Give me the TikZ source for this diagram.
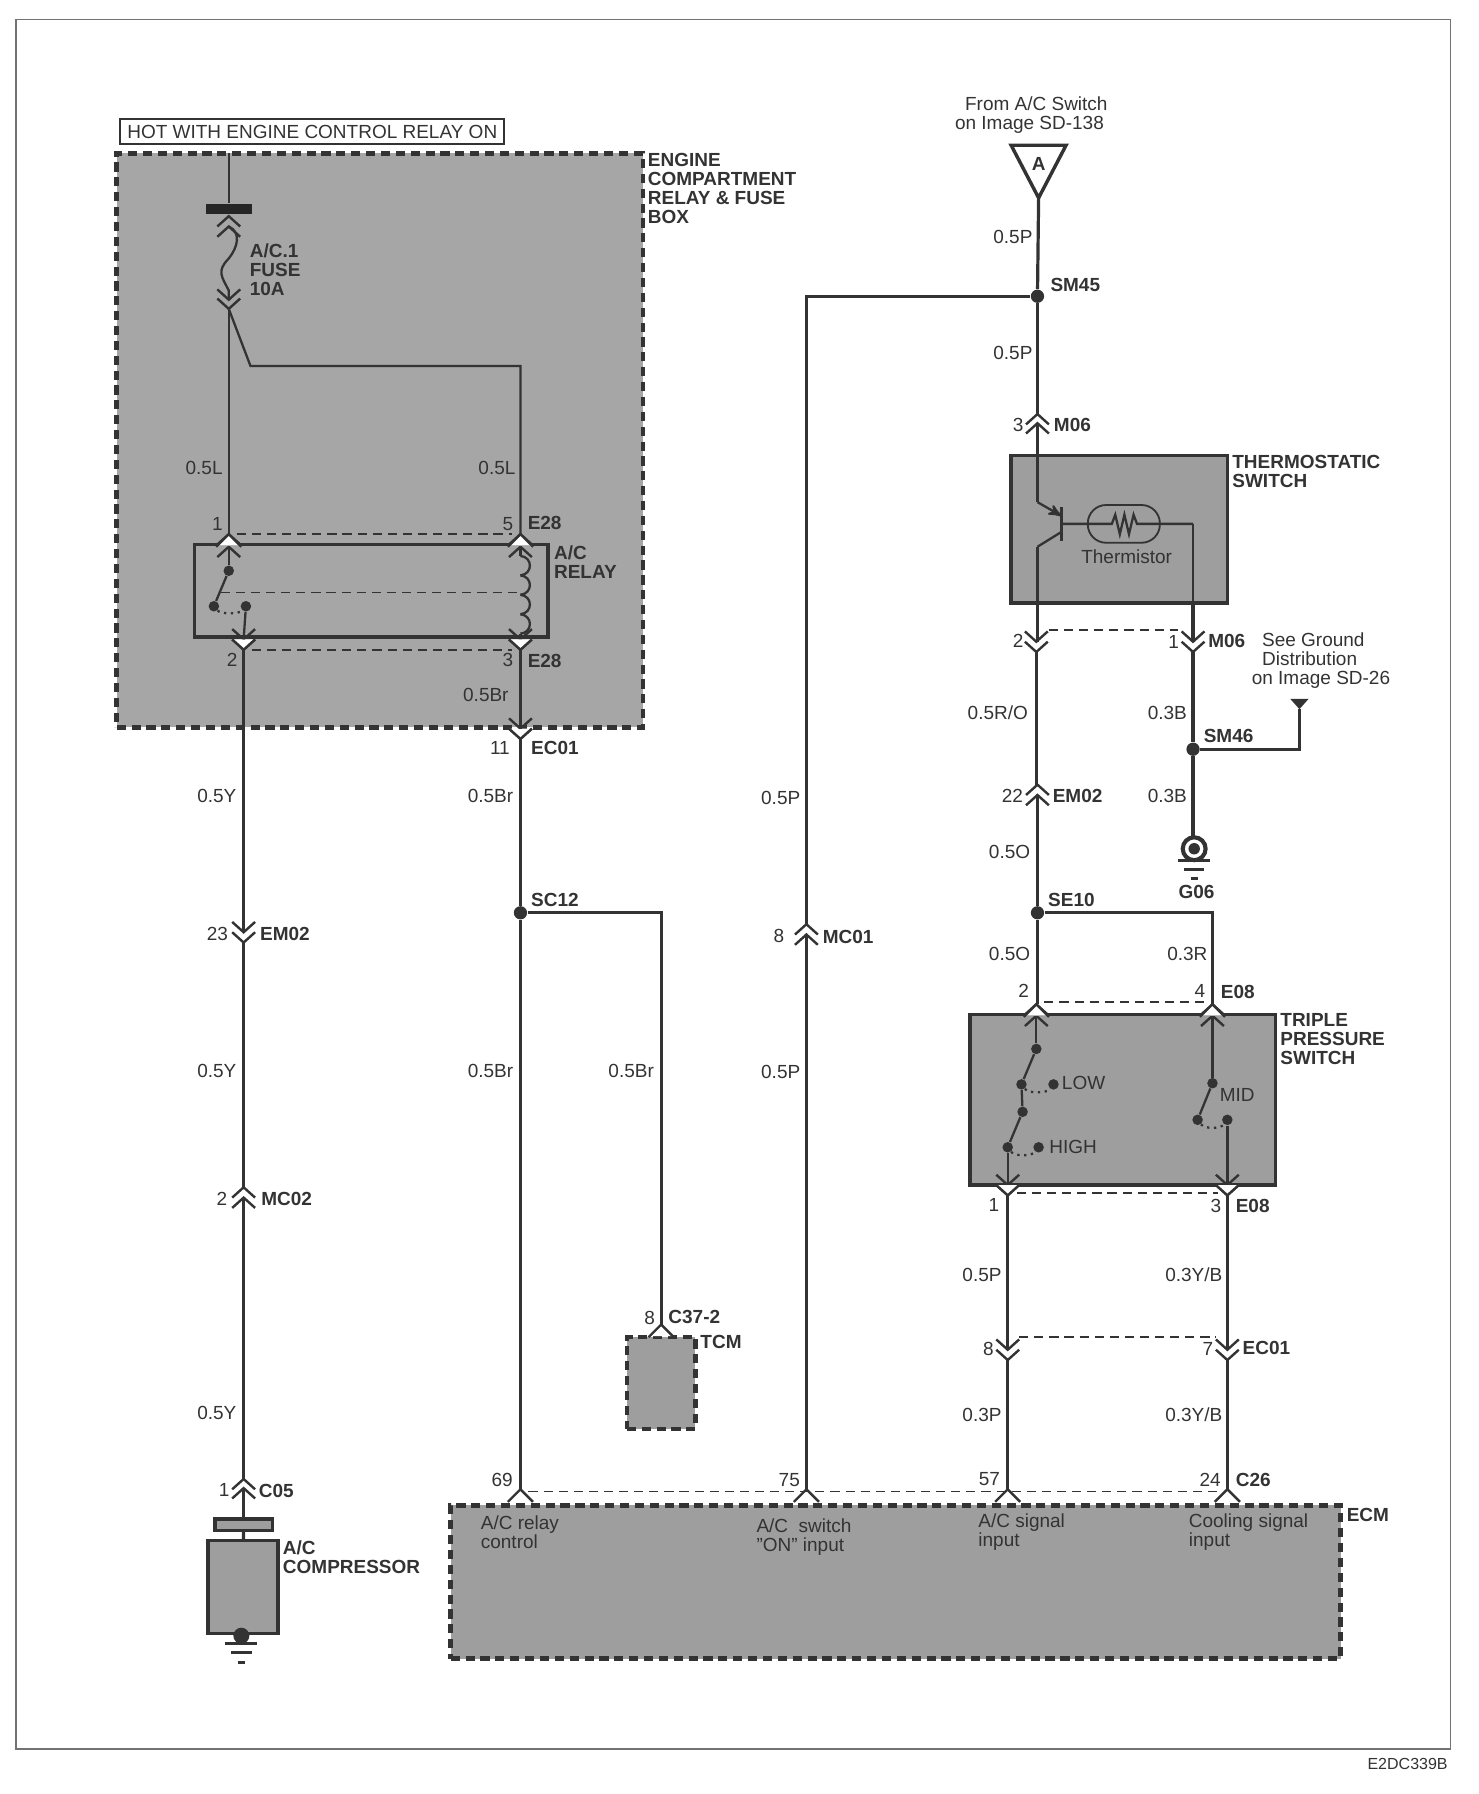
\documentclass[tikz,border=0pt]{standalone}
\usepackage{fontspec}
\setmainfont{Liberation Sans}
\usetikzlibrary{arrows}
\definecolor{ink}{gray}{.2}
\definecolor{boxgray}{gray}{.62}
\tikzset{>=stealth', font=\fontsize{8.3}{8.3}\selectfont, text=ink}
\tikzset{wire/.style={draw=ink, line width=1.4pt},
  thinwire/.style={draw=ink, line width=1pt},
  chev/.style={draw=ink, line width=1.05pt},
  dashlink/.style={draw=ink, line width=.7pt, dash pattern=on 4pt off 2.6pt},
  solidbox/.style={shape=rectangle, draw=ink, fill=boxgray, line width=1.5pt, inner sep=0},
  dashbox/.style={solidbox, line width=2pt, dash pattern=on 4pt off 2.5pt},
  joint/.style={shape=circle, fill=ink, inner sep=0, minimum size=5.8pt},
  contact/.style={shape=circle, fill=ink, inner sep=0, minimum size=4.6pt},
  gauge/.style={anchor=east, inner sep=0, text height=5.9pt, text depth=0pt},
  pinlab/.style={gauge, anchor=center},
  conlab/.style={gauge, anchor=west, font=\fontsize{8.3}{8.3}\selectfont\bfseries},
  boxlab/.style={anchor=north west, inner sep=0, align=left, font=\fontsize{8.3}{8.3}\selectfont\bfseries},
  notelab/.style={anchor=north west, inner sep=0, align=left}}
\tikzset{pics/upconn/.style={code={
      \coordinate (-top) at (0,0); \coordinate (-bot) at (0,#1);
      \draw[chev] (-10,9) -- (0,0) -- (10,9);
      \draw[chev] (-10,9+#1) -- (0,#1) -- (10,9+#1);}},
  pics/downconn/.style={code={
      \coordinate (-top) at (0,0); \coordinate (-bot) at (0,#1);
      \draw[chev] (-10,-9) -- (0,0) -- (10,-9);
      \draw[chev] (-10,-9+#1) -- (0,#1) -- (10,-9+#1);}},
  pics/capup/.style={code={
      \coordinate (-top) at (0,0);
      \fill[white] (-10,10) -- (0,0) -- (10,10) -- cycle;
      \draw[chev] (-11,11) -- (0,0) -- (11,11);}},
  pics/capdown/.style={code={
      \coordinate (-bot) at (0,0);
      \fill[white] (-10,-9) -- (0,0) -- (10,-9) -- cycle;
      \draw[chev] (-10,-9) -- (0,0) -- (10,-9);}},
  pics/earth/.style={code={
      \draw[chev, line width=1.3pt] (-14,0) -- (14,0);
      \draw[chev, line width=1.3pt] (-9,8) -- (9,8);
      \draw[chev, line width=1.3pt] (-3,16) -- (3,16);}}}

\begin{document}
\begin{tikzpicture}[x=.5pt, y=-.5pt]
  \useasboundingbox (0,0) rectangle (1293,1568.4);
  \node[shape=rectangle, draw=black!55, line width=.5pt, minimum width=627pt, minimum height=756pt] (frame) at (641,773) {};
  \node[anchor=east, inner sep=0, font=\fontsize{7}{7}\selectfont] (code) at (1266,1542) {E2DC339B};
  % boxes
  \node[solidbox, fill=white, line width=.9pt, minimum width=168pt, minimum height=11pt] (hot) at (273,115) {HOT WITH ENGINE CONTROL RELAY ON};
  \node[dashbox, fill=boxgray!92, minimum width=230pt, minimum height=251pt] (engine) at (332,385) {};
  \node[solidbox, fill=boxgray!92, minimum width=154.5pt, minimum height=40.5pt] (relay) at (324.5,516.5) {};
  \node[solidbox, minimum width=94.5pt, minimum height=64.5pt] (thermo) at (978.5,462.5) {};
  \node[solidbox, minimum width=133.5pt, minimum height=74.5pt] (triple) at (981.5,961.5) {};
  \node[dashbox, line width=1.8pt, minimum width=30pt, minimum height=40pt] (tcm) at (578,1209) {};
  \node[dashbox, minimum width=389pt, minimum height=67pt] (ecm) at (783,1383) {};
  \node[solidbox, minimum width=25pt, minimum height=5pt] (clutch) at (213,1333) {};
  \node[solidbox, minimum width=30.5pt, minimum height=40.5pt] (comp) at (212.5,1387.5) {};
  % connectors
  \foreach \nm/\x/\y/\g in {fuseup/200/189/9, relay1/200/467/11, relay5/455/467/11, mc02/213/1038/9,
      c05/213/1293/8, mc01/705/808/9, m06in/907/362/8, em02b/907/686/9, tp2/906/878/10, tp4/1060/878/10}
    \pic (\nm) at (\x,\y) {upconn=\g};
  \foreach \nm/\x/\y/\g in {fusedn/200/262/8, relay2/213/559/9, relay3/455/559/9, ec01a/455/637/9, em02a/213/815/9,
      m06l/906/561/9, m06r/1043/561/9, tp1/881/1036/9, tp3/1073/1036/9, ec01l/881/1180/9, ec01r/1073/1180/9}
    \pic (\nm) at (\x,\y) {downconn=\g};
  \foreach \nm/\x/\y in {cr1/200/467, cr5/455/467, cp2/906/878, cp4/1060/878, cap69/455/1302,
      cap75/705/1302, cap57/881/1302, cap24/1073/1302, captcm/578/1158}
    \pic (\nm) at (\x,\y) {capup};
  \foreach \nm/\x/\y in {cr2/213/568, cr3/455/568, cec01/455/646, cp1/881/1045, cp3/1073/1045}
    \pic (\nm) at (\x,\y) {capdown};
  % splices
  \node[joint] (sm45) at (907,259) {};
  \node[joint] (sm46) at (1043,655) {};
  \node[joint] (sc12) at (455,798) {};
  \node[joint] (se10) at (907,798) {};
  \coordinate (atip) at (908,173);
  \coordinate (feed) at (200,134);
  \coordinate (branch) at (200,270);
  \coordinate (gndtip) at (1136,620);
  \coordinate (g06top) at (1043,731);
  \draw[chev, line width=1.5pt] (884,127) -- (932,127) -- (atip) -- cycle;
  \node[inner sep=0, font=\fontsize{8.3}{8.3}\selectfont\bfseries] (swA) at (908,143) {A};
  % fuse
  \node[shape=rectangle, fill=black!85, inner sep=0, minimum width=20pt, minimum height=4.5pt] (bar) at (200,182.5) {};
  \draw[thinwire] (feed) -- (bar);
  \draw[thinwire] (fuseup-bot) .. controls +(11,5) and +(8,-10) .. (200,226)
      .. controls +(-11,11) and +(-6,-12) .. (200,254) -- (fusedn-top);
  \draw[thinwire] (branch) -- (relay1-top);
  \draw[thinwire] (branch) -- (219,320) -- (455,320) -- (relay5-top);
  % relay
  \node[contact] (ra) at (200,499) {};
  \node[contact] (rb) at (187,530) {};
  \node[contact] (rc) at (215,530) {};
  \coordinate (blade) at (193,518);
  \coordinate (coil) at (455,518);
  \draw[thinwire] (relay1-bot) -- (ra);
  \draw[thinwire] (ra) -- (rb);
  \draw[thinwire, dotted] (rb) .. controls +(6,7) and +(-6,7) .. (rc);
  \draw[thinwire] (rc) -- (relay2-top);
  \draw[dashlink] (blade) -- (coil);
  \draw[thinwire] (relay5-bot) -- (455,486);
  \foreach \y in {486,503,520,537}
    \draw[thinwire] (455,\y) .. controls +(11,1) and +(11,-1) .. (455,\y+17);
  \draw[thinwire] (455,554) -- (relay3-top);
  % harness
  \draw[wire] (relay2-bot) -- (em02a-top);
  \draw[wire] (em02a-bot) -- (mc02-top);
  \draw[wire] (mc02-bot) -- (c05-top);
  \draw[wire] (c05-bot) -- (clutch);
  \draw[wire] (clutch) -- (comp);
  \draw[thinwire] (relay3-bot) -- (ec01a-top);
  \draw[wire] (ec01a-bot) -- (sc12);
  \draw[wire] (sc12) -- (cap69-top);
  \draw[wire] (sc12) -- (578,798) -- (captcm-top);
  \draw[wire] (atip) -- (sm45);
  \draw[wire] (sm45) -- (m06in-top);
  \draw[wire] (sm45) -- (705,259) -- (mc01-top);
  \draw[wire] (mc01-bot) -- (cap75-top);
  % thermostatic switch
  \coordinate (qknee) at (907,439);
  \coordinate (qemit) at (928,451);
  \coordinate (qcoll) at (928,465);
  \coordinate (qlow) at (907,478);
  \coordinate (qbase) at (929,458);
  \coordinate (qout) at (1043,458);
  \node[shape=rectangle, draw=ink, line width=.8pt, rounded corners=8pt, inner sep=0, minimum width=31.5pt, minimum height=16.5pt] (capsule) at (982.5,458) {};
  \draw[thinwire] (m06in-bot) -- (qknee);
  \draw[thinwire, ->] (qknee) -- (qemit);
  \draw[thinwire] (928,443) -- (928,473);
  \draw[thinwire] (qcoll) -- (qlow);
  \draw[thinwire] (qbase) -- (972,458) -- (975,450) -- (979,467) -- (983,450) -- (987,467) -- (991,450) -- (994,458) -- (qout);
  \draw[thinwire] (qout) -- (1043,527);
  \draw[thinwire] (qlow) -- (907,527);
  \draw[wire] (907,527) -- (907,561);
  \draw[wire] (1043,527) -- (m06r-top);
  \draw[wire] (m06l-bot) -- (906,686);
  \draw[wire] (em02b-bot) -- (se10);
  \draw[wire] (se10) -- (907,878);
  \draw[thinwire, line width=1.2pt] (se10) -- (1060,798) -- (tp4-top);
  \draw[wire] (m06r-bot) -- (sm46);
  \draw[wire] (sm46) -- (1136,655) -- (gndtip);
  \fill[ink] (1128,611) -- (1144,611) -- (gndtip) -- cycle;
  \draw[wire] (sm46) -- (g06top);
  \draw[chev, line width=1.8pt] (1044,742) circle[radius=10];
  \fill[ink] (1044,742) circle[radius=5];
  \pic (g06) at (1044,752) {earth};
  \fill[ink] (211,1430) circle[radius=7];
  \pic (gcomp) at (211,1437) {earth};
  % pressure switch
  \node[contact] (pa) at (906,917) {};
  \node[contact] (pb) at (893,948) {};
  \node[contact] (pc) at (921,948) {};
  \node[contact] (pd) at (894,972) {};
  \node[contact] (pe) at (881,1003) {};
  \node[contact] (pf) at (908,1003) {};
  \node[contact] (pg) at (1060,947) {};
  \node[contact] (ph) at (1047,979) {};
  \node[contact] (pi) at (1073,979) {};
  \draw[thinwire] (tp2-bot) -- (pa);
  \draw[thinwire] (pa) -- (pb);
  \draw[thinwire, dotted] (pb) .. controls +(6,8) and +(-6,8) .. (pc);
  \draw[thinwire] (pb) -- (pd);
  \draw[thinwire] (pd) -- (pe);
  \draw[thinwire, dotted] (pe) .. controls +(6,8) and +(-6,8) .. (pf);
  \draw[thinwire] (pe) -- (tp1-top);
  \draw[thinwire] (tp4-bot) -- (pg);
  \draw[thinwire] (pg) -- (ph);
  \draw[thinwire, dotted] (ph) .. controls +(6,8) and +(-6,8) .. (pi);
  \draw[thinwire] (pi) -- (tp3-top);
  \draw[wire] (tp1-bot) -- (ec01l-top);
  \draw[wire] (tp3-bot) -- (ec01r-top);
  \draw[wire] (ec01l-bot) -- (cap57-top);
  \draw[wire] (ec01r-bot) -- (cap24-top);
  % dashed ties
  \draw[dashlink] ([shift={(7,0)}]relay1-top) -- ([shift={(-7,0)}]relay5-top);
  \draw[dashlink] ([shift={(7,0)}]relay2-bot) -- ([shift={(-7,0)}]relay3-bot);
  \draw[dashlink] ([shift={(11,-10)}]m06l-top) -- ([shift={(-13,-10)}]m06r-top);
  \draw[dashlink] ([shift={(7,-2)}]tp2-top) -- ([shift={(-7,-2)}]tp4-top);
  \draw[dashlink] ([shift={(8,-2)}]tp1-bot) -- ([shift={(-8,-2)}]tp3-bot);
  \draw[dashlink] ([shift={(10,-11)}]ec01l-top) -- ([shift={(-10,-11)}]ec01r-top);
  \draw[dashlink] ([shift={(7,2)}]cap69-top) -- ([shift={(-7,2)}]cap24-top);
  % labels
  \foreach \x/\y/\t in {195/409/0.5L, 451/409/0.5L, 445/607/0.5Br, 207/696/0.5Y, 449/696/0.5Br,
      207/936/0.5Y, 449/936/0.5Br, 572/936/0.5Br, 207/1235/0.5Y, 700/697/0.5P, 700/937/0.5P,
      903/207/0.5P, 903/308/0.5P, 899/623/{0.5R/O}, 1038/623/0.3B, 1038/696/0.3B, 901/745/0.5O,
      901/834/0.5O, 1056/834/0.3R, 876/1114/0.5P, 1069/1114/{0.3Y/B}, 876/1237/0.3P, 1069/1237/{0.3Y/B}}
    \node[gauge] (g\x-\y) at (\x,\y) {\t};
  \foreach \x/\y/\t in {190/458/1, 444/458/5, 203/577/2, 444/577/3, 437/654/11, 190/816/23, 194/1048/2,
      196/1302/1, 568/1152/8, 439/1294/69, 690/1294/75, 865/1293/57, 1058/1294/24, 681/818/8, 890/371/3,
      890/560/2, 1026/561/1, 885/696/22, 895/866/2, 1049/866/4, 869/1053/1, 1063/1054/3, 864/1179/8, 1056/1179/7}
    \node[pinlab] (p\x-\y) at (\x,\y) {\t};
  \foreach \x/\y/\t in {461/457/E28, 461/578/E28, 464/654/EC01, 227/816/EM02, 228/1048/MC02, 226/1303/C05,
      464/787/SC12, 584/1151/C37-2, 612/1173/TCM, 1080/1294/C26, 1177/1324/ECM, 719/819/MC01, 918/249/SM45,
      921/371/M06, 1056/560/M06, 1052/643/SM46, 920/696/EM02, 916/787/SE10, 1067/867/E08, 1080/1054/E08,
      1086/1178/EC01, 1030/780/G06}
    \node[conlab] (c\x-\y) at (\x,\y) {\t};
  \node[boxlab] (englab) at (566,133.5) {ENGINE\\COMPARTMENT\\RELAY \& FUSE\\BOX};
  \node[boxlab] (fuselab) at (218,212.5) {A/C.1\\FUSE\\10A};
  \node[boxlab] (rellab) at (484,476.5) {A/C\\RELAY};
  \node[boxlab] (complab) at (247,1347) {A/C\\COMPRESSOR};
  \node[boxlab] (thermlab) at (1077,397.5) {THERMOSTATIC\\SWITCH};
  \node[boxlab] (triplab) at (1119,886) {TRIPLE\\PRESSURE\\SWITCH};
  \node[notelab, align=center, anchor=north] (fromlab) at (900,84) {\hspace{6pt}From A/C Switch\\on Image SD-138};
  \node[notelab] (seelab) at (1094,553) {\hspace{4.5pt}See Ground\\\hspace{4.5pt}Distribution\\on Image SD-26};
  \node[notelab, anchor=center] (thlab) at (985,487) {Thermistor};
  \node[notelab, anchor=west] (lowlab) at (928,947) {LOW};
  \node[notelab, anchor=west] (highlab) at (917,1003) {HIGH};
  \node[notelab, anchor=west] (midlab) at (1066,957) {MID};
  \node[notelab] (ecm1) at (420,1325) {A/C relay\\control};
  \node[notelab] (ecm2) at (661,1327) {A/C\ \ switch\\\symbol{34}ON\symbol{34} input};
  \node[notelab] (ecm3) at (855,1323) {A/C signal\\input};
  \node[notelab] (ecm4) at (1039,1323) {Cooling signal\\input};
\end{tikzpicture}
\end{document}
